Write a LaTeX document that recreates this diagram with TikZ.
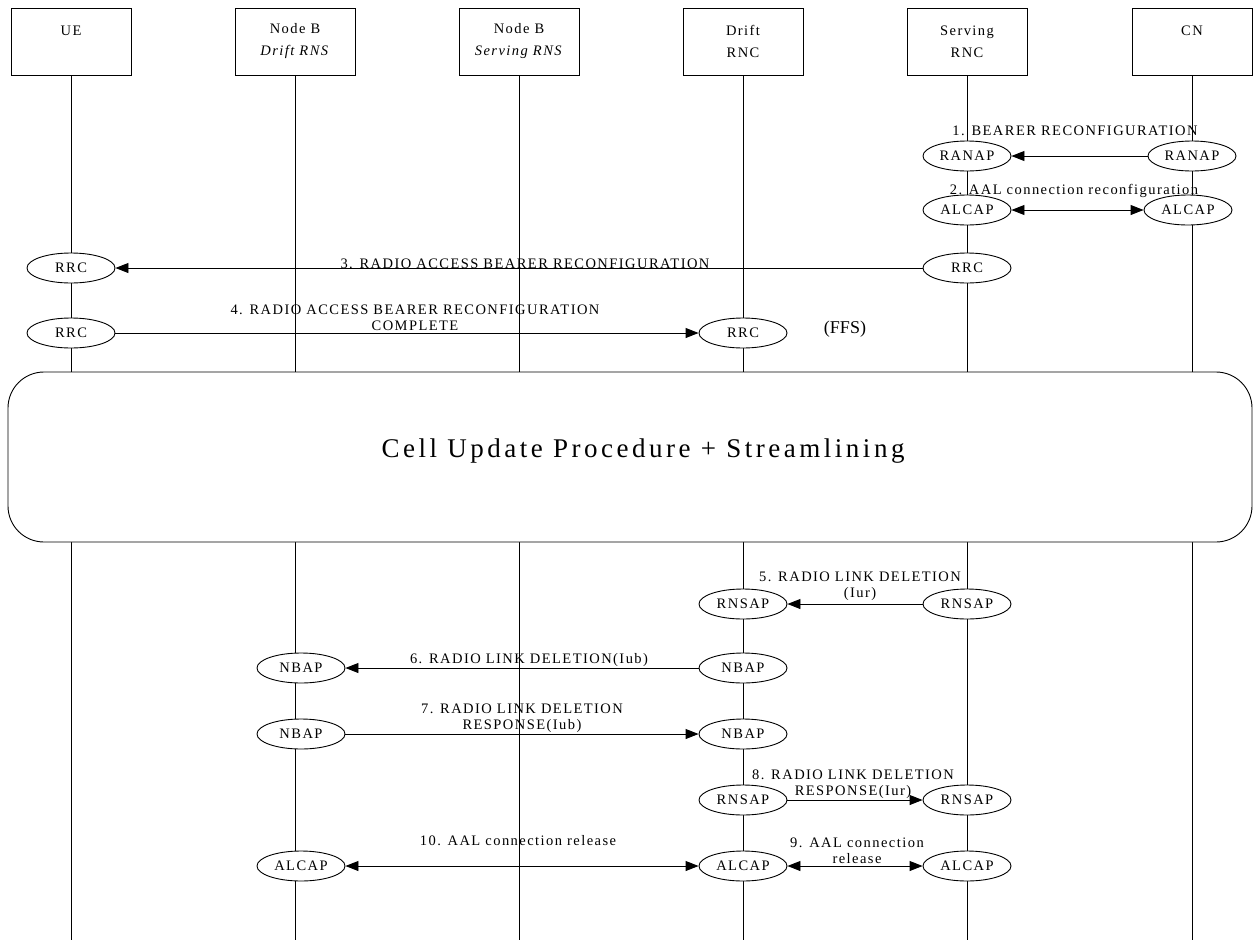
\documentclass[tikz,border=0pt]{standalone}
\usepackage{fontspec}
\setmainfont{Liberation Serif}
\newfontfamily\spaced[LetterSpace=10]{Liberation Serif}
\newfontfamily\wide[LetterSpace=13]{Liberation Serif}
\usetikzlibrary{arrows.meta,shapes.geometric}

\begin{document}
\begin{tikzpicture}[x=1pt,y=-1pt,
  line width=0.9pt,
  actor/.style={draw, fill=white, minimum width=120pt, minimum height=67pt,
    align=center, inner sep=0pt, font=\fontsize{14.5}{22}\spaced},
  proto/.style={draw, ellipse, fill=white, minimum width=88pt, minimum height=30pt,
    inner sep=0pt, font=\fontsize{14.5}{16}\spaced},
  msg/.style={-{Triangle[length=13pt,width=10pt]}},
  both/.style={{Triangle[length=13pt,width=10pt]}-{Triangle[length=13pt,width=10pt]}},
  lbl/.style={align=center, inner sep=0pt, font=\fontsize{14.5}{16}\spaced},
]
\useasboundingbox (0,0) rectangle (1254,940);

% entities
\node[actor] (ue)   at (71,41.5)   {UE\\\mbox{}};
\node[actor] (nbd)  at (295,41.5)  {Node B\\\textit{Drift RNS}};
\node[actor] (nbs)  at (519,41.5)  {Node B\\\textit{Serving RNS}};
\node[actor] (drnc) at (743,41.5)  {Drift\\RNC};
\node[actor] (srnc) at (967,41.5)  {Serving\\RNC};
\node[actor] (cn)   at (1192,41.5) {CN\\\mbox{}};

% lifeline ends
\coordinate (ueE)   at (71,940);
\coordinate (nbdE)  at (295,940);
\coordinate (nbsE)  at (519,940);
\coordinate (drncE) at (743,940);
\coordinate (srncE) at (967,940);
\coordinate (cnE)   at (1192,940);

\foreach \a in {ue,nbd,nbs,drnc,srnc,cn}
  \draw (\a.south) -- (\a E);

% common procedure block
\node[draw, fill=white, rounded corners=36pt, minimum width=1244pt, minimum height=170pt]
  (cup) at (630,457) {};
\node[font=\fontsize{27}{32}\wide] (cuptext) at (643,451)
  {Cell Update Procedure + Streamlining};

% 1. bearer reconfiguration
\node[proto] (p1a) at (967,156)  {RANAP};
\node[proto] (p1b) at (1192,156) {RANAP};
\draw[msg] (p1b) -- (p1a);
\node[lbl, anchor=base] (l1) at (1075,135) {1. BEARER RECONFIGURATION};

% 2. AAL connection reconfiguration
\node[proto] (p2a) at (967,210)  {ALCAP};
\node[proto] (p2b) at (1188,210) {ALCAP};
\draw[both] (p2a) -- (p2b);
\node[lbl, anchor=base] (l2) at (1074,194) {2. AAL connection reconfiguration};

% 3. radio access bearer reconfiguration
\node[proto] (p3a) at (71,268)  {RRC};
\node[proto] (p3b) at (967,268) {RRC};
\draw[msg] (p3b) -- (p3a);
\node[lbl, anchor=base] (l3) at (525,268) {3. RADIO ACCESS BEARER RECONFIGURATION};

% 4. radio access bearer reconfiguration complete
\node[proto] (p4a) at (71,333)  {RRC};
\node[proto] (p4b) at (743,333) {RRC};
\draw[msg] (p4a) -- (p4b);
\node[lbl, anchor=south] (l4) at (415,331) {4. RADIO ACCESS BEARER RECONFIGURATION\\COMPLETE};
\node[font=\fontsize{18}{20}\selectfont] (ffs) at (845,329) {(FFS)};

% 5. radio link deletion (Iur)
\node[proto] (p5a) at (743,604) {RNSAP};
\node[proto] (p5b) at (967,604) {RNSAP};
\draw[msg] (p5b) -- (p5a);
\node[lbl, anchor=south] (l5) at (860,601) {5. RADIO LINK DELETION\\(Iur)};

% 6. radio link deletion (Iub)
\node[proto] (p6a) at (301,668) {NBAP};
\node[proto] (p6b) at (743,668) {NBAP};
\draw[msg] (p6b) -- (p6a);
\node[lbl, anchor=base] (l6) at (529,663) {6. RADIO LINK DELETION(Iub)};

% 7. radio link deletion response (Iub)
\node[proto] (p7a) at (301,734) {NBAP};
\node[proto] (p7b) at (743,734) {NBAP};
\draw[msg] (p7a) -- (p7b);
\node[lbl, anchor=south] (l7) at (522,733) {7. RADIO LINK DELETION\\RESPONSE(Iub)};

% 8. radio link deletion response (Iur)
\node[proto] (p8a) at (743,800) {RNSAP};
\node[proto] (p8b) at (967,800) {RNSAP};
\draw[msg] (p8a) -- (p8b);
\node[lbl, anchor=south] (l8) at (853,799) {8. RADIO LINK DELETION\\RESPONSE(Iur)};

% 9. / 10. AAL connection release
\node[proto] (p9a) at (301,866) {ALCAP};
\node[proto] (p9b) at (743,866) {ALCAP};
\node[proto] (p9c) at (967,866) {ALCAP};
\draw[both] (p9b) -- (p9c);
\draw[both] (p9a) -- (p9b);
\node[lbl, anchor=south] (l9) at (857,864) {9. AAL connection\\release};
\node[lbl, anchor=base] (l10) at (518,845) {10. AAL connection release};
\end{tikzpicture}
\end{document}
